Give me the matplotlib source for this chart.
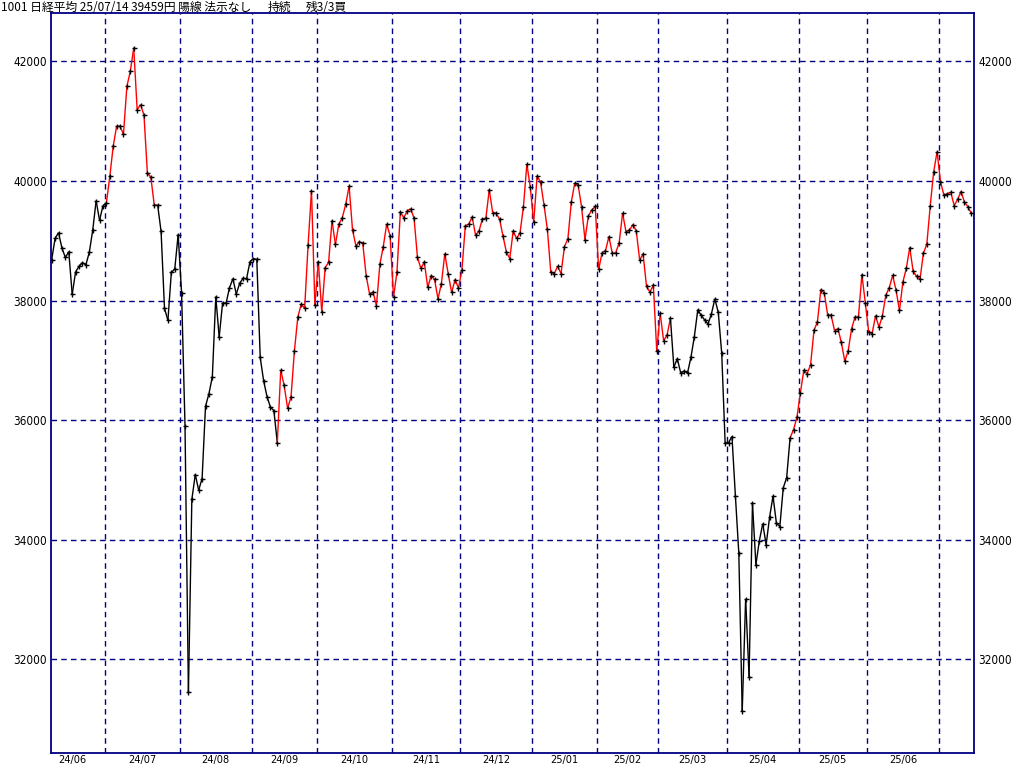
import matplotlib
matplotlib.use("Agg")
import matplotlib.pyplot as plt
import matplotlib.font_manager as fm
from matplotlib.collections import LineCollection
import numpy as np
import pandas as pd

# trading calendar (Tokyo) for the plotted span
start_date = "2024-06-07"
end_date = "2025-07-14"
holidays = ["2024-07-15", "2024-08-12", "2024-09-16", "2024-09-23", "2024-10-14",
            "2024-11-04", "2024-12-31", "2025-01-01", "2025-01-02", "2025-01-03",
            "2025-01-13", "2025-02-11", "2025-02-24", "2025-03-20", "2025-04-29",
            "2025-05-05", "2025-05-06"]

# daily closes, one list per month
close_2406 = [38684, 39038, 39134, 38877, 38720, 38815, 38102, 38482, 38570, 38633,
              38596, 38805, 39173, 39667, 39342, 39583]
close_2407 = [39631, 40074, 40580, 40914, 40912, 40781, 41580, 41832, 42224, 41191,
              41275, 41098, 40126, 40064, 39599, 39594, 39155, 37870, 37667, 38469,
              38526, 39102]
close_2408 = [38126, 35910, 31458, 34675, 35090, 34831, 35025, 36233, 36443, 36727,
              38063, 37389, 37964, 37951, 38211, 38364, 38110, 38289, 38372, 38363,
              38648]
close_2409 = [38701, 38686, 37048, 36658, 36392, 36216, 36160, 35620, 36833, 36582,
              36204, 36381, 37156, 37724, 37941, 37871, 38926, 39830, 37920]
close_2410 = [38652, 37809, 38552, 38636, 39333, 38938, 39278, 39381, 39606, 39911,
              39181, 38911, 38982, 38955, 38412, 38105, 38143, 37914, 38606, 38903,
              39278, 39081]
close_2411 = [38054, 38475, 39481, 39382, 39500, 39534, 39377, 38722, 38536, 38643,
              38221, 38415, 38353, 38026, 38284, 38781, 38443, 38135, 38350, 38208]
close_2412 = [38513, 39249, 39277, 39396, 39091, 39161, 39368, 39373, 39850, 39470,
              39458, 39365, 39082, 38814, 38702, 39161, 39037, 39131, 39568, 40281,
              39895]
close_2501 = [39307, 40083, 39981, 39605, 39190, 38474, 38445, 38573, 38451, 38903,
              39028, 39646, 39959, 39931, 39566, 39017, 39415, 39514, 39572]
close_2502 = [38520, 38798, 38832, 39067, 38787, 38801, 38964, 39462, 39149, 39174,
              39270, 39165, 38678, 38777, 38238, 38142, 38256, 37156]
close_2503 = [37785, 37331, 37418, 37705, 36887, 37028, 36793, 36819, 36790, 37053,
              37397, 37846, 37752, 37677, 37608, 37780, 38027, 37800, 37120, 35618]
close_2504 = [35625, 35726, 34736, 33781, 31137, 33013, 31714, 34609, 33586, 33982,
              34268, 33921, 34377, 34730, 34280, 34221, 34869, 35040, 35706, 35840,
              36045]
close_2505 = [36452, 36831, 36780, 36929, 37504, 37644, 38184, 38128, 37756, 37754,
              37499, 37529, 37299, 36986, 37160, 37532, 37725, 37723, 38433, 37965]
close_2506 = [37471, 37447, 37747, 37555, 37742, 38089, 38212, 38421, 38173, 37834,
              38311, 38537, 38885, 38489, 38403, 38355, 38791, 38943, 39585, 40151,
              40487]
close_2507 = [39987, 39763, 39786, 39811, 39588, 39689, 39822, 39647, 39570, 39459]

# periods drawn in red (signal on)
red_periods = [("2024-07-02", "2024-07-23"),
               ("2024-09-12", "2025-03-06"),
               ("2025-04-28", "2025-07-14")]

y_ticks = [32000, 34000, 36000, 38000, 40000, 42000]
title_main = "1001 日経平均 25/07/14 39459円 陽線 法示なし"
title_state = "持続"
title_rest = "残3/3買"

closes = np.array(close_2406 + close_2407 + close_2408 + close_2409 + close_2410 +
                  close_2411 + close_2412 + close_2501 + close_2502 + close_2503 +
                  close_2504 + close_2505 + close_2506 + close_2507, dtype=float)
dates = pd.bdate_range(start_date, end_date)
dates = dates[~dates.isin(pd.to_datetime(holidays))]
assert len(dates) == len(closes)

idx = np.arange(len(closes))
red = np.zeros(len(closes), dtype=bool)
for a, b in red_periods:
    red |= (dates >= pd.Timestamp(a)) & (dates <= pd.Timestamp(b))

navy = "#000080"
names = {f.name for f in fm.fontManager.ttflist}
if "Liberation Sans Narrow" in names:
    num_font = dict(family="Liberation Sans Narrow", size=9.5)
else:
    num_font = dict(family="DejaVu Sans", size=8.5, stretch="condensed")
jp = ["Noto Sans CJK JP", "DejaVu Sans"]

fig = plt.figure(figsize=(10.24, 7.67), dpi=100)
ax = fig.add_axes([51 / 1024, 1 - 753 / 767, 923 / 1024, 740 / 767])

# month boundaries and labels
months = dates.to_period("M")
first = [i for i in range(1, len(dates)) if months[i] != months[i - 1]]
for i in first:
    ax.axvline(i - 0.5, color=navy, lw=1, ls=(0, (4, 3)), zorder=1)
for y in y_ticks:
    ax.axhline(y, color=navy, lw=1, ls=(0, (4, 3)), zorder=1)

# label every complete month span except the running (last) one
bounds = [0] + first
mid = [(bounds[k] + bounds[k + 1] - 1) / 2 for k in range(len(bounds) - 1)]
mid[0] = mid[0] - 1.6
labels = [months[b].strftime("%y/%m") for b in bounds[:-1]]

segs = np.stack([np.column_stack([idx[:-1], closes[:-1]]),
                 np.column_stack([idx[1:], closes[1:]])], axis=1)
cols = np.where(red[1:], "#ff0000", "#000000")
ax.add_collection(LineCollection(segs, colors=cols, linewidths=1.0, zorder=2))
ax.plot(idx, closes, ls="none", marker="+", ms=3.6, mew=1.0, color="black", zorder=3)

ax.set_xlim(-0.2, 269.8)
ax.set_ylim(30437, 42806)
ax.set_xticks(mid)
x_font = dict(num_font)
x_font["size"] = num_font["size"] - 0.7
ax.set_xticklabels(labels, **x_font)
ax.set_yticks(y_ticks)
ax.set_yticklabels([str(v) for v in y_ticks], **num_font)
ax.tick_params(axis="y", length=0, pad=3, labelright=True, labelleft=True)
ax.tick_params(axis="x", length=0, pad=1.5)
for s in ax.spines.values():
    s.set_color(navy)
    s.set_linewidth(1.3)

fig.text(1 / 1024, 1 - 1 / 767, title_main, family=jp, fontsize=8.5, va="top", ha="left")
fig.text(268 / 1024, 1 - 1 / 767, title_state, family=jp, fontsize=8.5, va="top", ha="left")
fig.text(306 / 1024, 1 - 1 / 767, title_rest, family=jp, fontsize=8.5, va="top", ha="left")

fig.savefig("out.png", dpi=100)
